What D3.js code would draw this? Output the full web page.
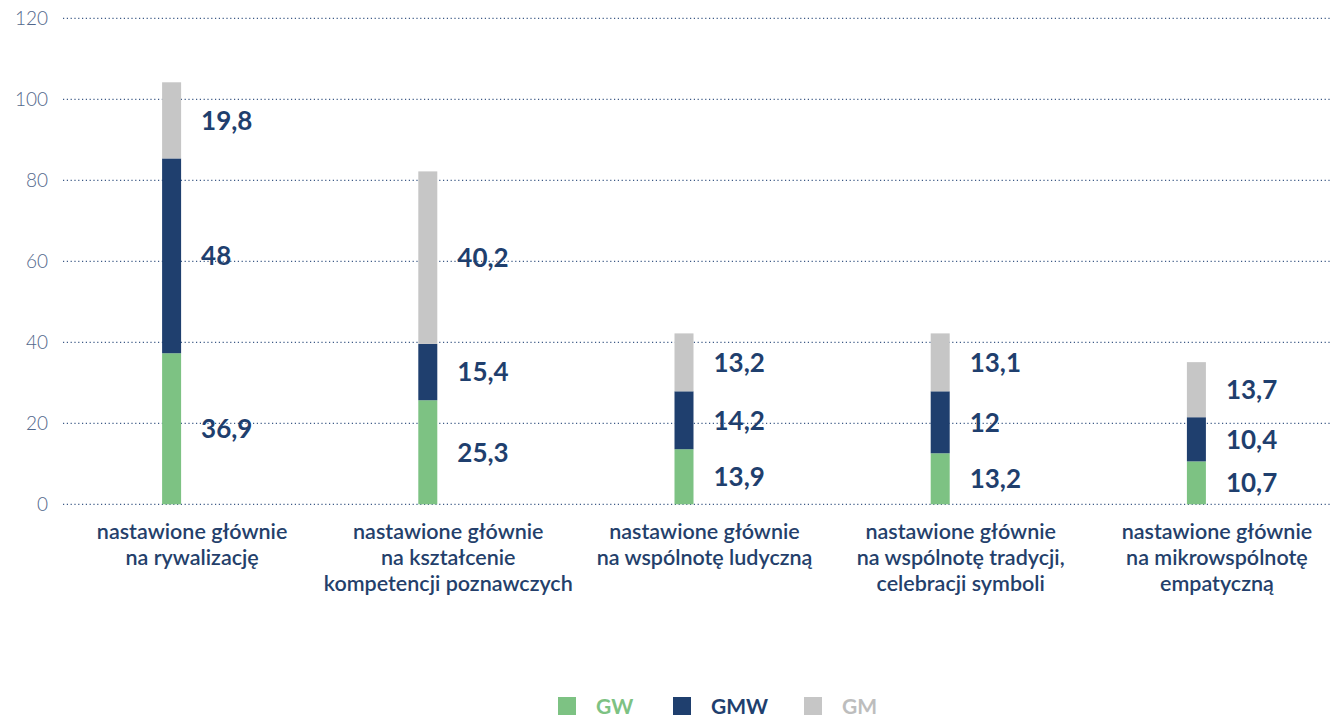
<!DOCTYPE html>
<html><head><meta charset="utf-8">
<script src="https://cdn.jsdelivr.net/npm/d3@7"></script>
<style>
body{margin:0;background:#fff;}
svg{display:block;font-family:Lato,"Open Sans",sans-serif;}
</style></head><body>
<svg id="c" width="1332" height="719"></svg>
<script>
const categories = [
  ["nastawione głównie","na rywalizację"],
  ["nastawione głównie","na kształcenie","kompetencji poznawczych"],
  ["nastawione głównie","na wspólnotę ludyczną"],
  ["nastawione głównie","na wspólnotę tradycji,","celebracji symboli"],
  ["nastawione głównie","na mikrowspólnotę","empatyczną"]
];
const seriesNames = ["GW","GMW","GM"];
// value labels as printed in the chart
const GW_labels  = ["36,9","25,3","13,9","13,2","10,7"];
const GMW_labels = ["48","15,4","14,2","12","10,4"];
const GM_labels  = ["19,8","40,2","13,2","13,1","13,7"];
// segment heights as drawn in the chart
const GW  = [37.3, 25.7, 13.6, 12.6, 10.6];
const GMW = [48.1, 13.9, 14.3, 15.3, 10.9];
const GM  = [18.8, 42.6, 14.3, 14.3, 13.6];
const yTicks = [0,20,40,60,80,100,120];
const colors = ["#7dc283","#1f3f6e","#c6c6c6"];
const legendTextColors = ["#7dc283","#1f3f6e","#bdbdbd"];

const svg = d3.select("#c");
const x = d3.scaleBand().domain(d3.range(categories.length)).range([64,1345]);
const y = d3.scaleLinear().domain([0,120]).range([504.3,18.3]);

// axis + grid
const yAxis = d3.axisLeft(y).tickValues(yTicks).tickSize(0).tickPadding(15);
const ga = svg.append("g").attr("transform","translate(63,0)").call(yAxis);
ga.select(".domain").remove();
ga.selectAll("text").attr("font-size",19).attr("font-weight",300).attr("fill","#52678b")
  .attr("font-family","Lato,sans-serif");
svg.append("g").selectAll("line").data(yTicks).join("line")
  .attr("x1",63).attr("x2",1332).attr("y1",d=>y(d)).attr("y2",d=>y(d))
  .attr("stroke","#3d5a86").attr("stroke-width",1.2).attr("stroke-dasharray","1.2,2.6");

const labels = [GW_labels, GMW_labels, GM_labels];
const data = categories.map((c,i)=>({i, vals:[GW[i],GMW[i],GM[i]]}));
const stack = d3.stack().keys([0,1,2]).value((d,k)=>d.vals[k]);
const layers = stack(data);
const bw = 19;
const barX = i => x(i) + x.bandwidth()/2 - 30;

layers.forEach((layer,k)=>{
  svg.append("g").selectAll("rect").data(layer).join("rect")
    .attr("x",(d,i)=>barX(i)).attr("width",bw)
    .attr("y",d=>y(d[1])).attr("height",d=>y(d[0])-y(d[1]))
    .attr("fill",colors[k]);
  svg.append("g").selectAll("text").data(layer).join("text")
    .attr("x",(d,i)=>barX(i)+bw+20)
    .attr("y",d=>y((d[0]+d[1])/2))
    .attr("dy","0.36em")
    .attr("font-size",26).attr("font-weight",700).attr("fill","#1f3f6e")
    .text((d,i)=>labels[k][i]);
});

// category labels
const cl = svg.append("g").selectAll("text").data(categories).join("text")
  .attr("x",(d,i)=>x(i)+x.bandwidth()/2).attr("y",539)
  .attr("text-anchor","middle").attr("font-size",21.5).attr("font-weight",600)
  .attr("fill","#243f6b");
cl.selectAll("tspan").data(d=>d).join("tspan")
  .attr("x",function(){return this.parentNode.getAttribute("x");})
  .attr("dy",(d,j)=>j===0?0:26).text(d=>d);

// legend
const lx = [558,673,804];
const lg = svg.append("g").selectAll("g").data(seriesNames).join("g")
  .attr("transform",(d,i)=>`translate(${lx[i]},697)`);
lg.append("rect").attr("width",18).attr("height",18).attr("fill",(d,i)=>colors[i]);
lg.append("text").attr("x",38).attr("y",9).attr("dy","0.36em")
  .attr("font-size",21).attr("font-weight",700).attr("fill",(d,i)=>legendTextColors[i]).text(d=>d);
</script>
</body></html>
